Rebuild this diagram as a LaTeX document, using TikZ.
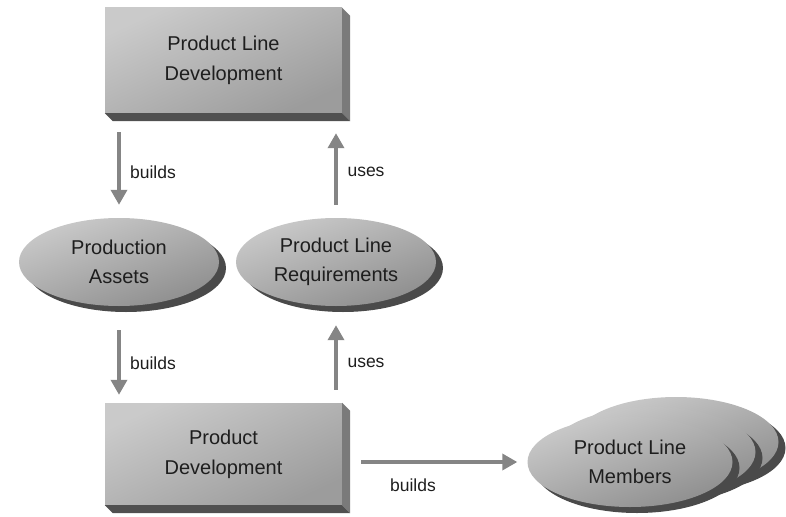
\documentclass[tikz,border=0pt]{standalone}
\usepackage{fontspec}
\setmainfont{Liberation Sans}
\usetikzlibrary{shapes.geometric,shadows,arrows.meta}
\definecolor{facelight}{HTML}{CACACA}
\definecolor{facedark}{HTML}{9C9C9C}
\definecolor{sidegrey}{HTML}{7A7A7A}
\definecolor{basegrey}{HTML}{505050}
\definecolor{blobdark}{HTML}{8E8E8E}
\definecolor{shadowgrey}{HTML}{4A4A4A}
\definecolor{flowgrey}{HTML}{858585}
\definecolor{inkgrey}{HTML}{1E1E1E}
\begin{document}
\begin{tikzpicture}[x=1pt,y=-1pt,
    box/.style={rectangle, top color=facelight, bottom color=facedark, shading angle=25,
      minimum width=237pt, align=center, text=inkgrey,
      font=\fontsize{20}{30}\selectfont},
    blob/.style={ellipse, top color=facelight, bottom color=blobdark, shading angle=20,
      minimum width=200pt, minimum height=88pt, inner sep=0pt, align=center, text=inkgrey,
      font=\fontsize{20}{29}\selectfont,
      drop shadow={shadow xshift=7pt, shadow yshift=-6pt, fill=shadowgrey, opacity=1}},
    flow/.style={draw=flowgrey, line width=3.5pt, -{Triangle[width=16pt,length=15pt]}},
    lbl/.style={inner sep=0pt, text=inkgrey, font=\fontsize{17.5}{20}\selectfont}]
    \useasboundingbox (0,0) rectangle (786,516);

    % boxes with extruded edges
    \node[box, minimum height=105pt] (pld) at (223.5,60.5) {Product Line\\Development};
    \fill[sidegrey] (pld.north east) -- ([shift={(8,8)}]pld.north east)
      -- ([shift={(8,8)}]pld.south east) -- (pld.south east) -- cycle;
    \fill[basegrey] (pld.south west) -- ([shift={(8,8)}]pld.south west)
      -- ([shift={(8,8)}]pld.south east) -- (pld.south east) -- cycle;

    \node[box, minimum height=102pt] (pd) at (223.5,454) {Product\\Development};
    \fill[sidegrey] (pd.north east) -- ([shift={(8,8)}]pd.north east)
      -- ([shift={(8,8)}]pd.south east) -- (pd.south east) -- cycle;
    \fill[basegrey] (pd.south west) -- ([shift={(8,8)}]pd.south west)
      -- ([shift={(8,8)}]pd.south east) -- (pd.south east) -- cycle;

    % ellipses
    \node[blob] (pa) at (119,262) {Production\\Assets};
    \node[blob] (plr) at (336,262) {Product Line\\Requirements};
    \node[blob, minimum width=205pt, minimum height=90pt] (plmback) at (676,442) {};
    \node[blob, minimum width=205pt, minimum height=90pt] (plmmid) at (653,452) {};
    \node[blob, minimum width=205pt, minimum height=90pt] (plm) at (630,462) {Product Line\\Members};

    % connectors
    \draw[flow, shorten <=19pt, shorten >=13pt] (pld.south -| pa) -- (pa.north);
    \draw[flow, shorten <=13pt, shorten >=20pt] (plr.north) -- (pld.south -| plr);
    \draw[flow, shorten <=24pt, shorten >=8pt] (pa.south) -- (pd.north -| pa);
    \draw[flow, shorten <=13pt, shorten >=19pt] (pd.north -| plr) -- (plr.south);
    \draw[flow, shorten <=19pt, shorten >=10pt] (pd.east |- plm) -- (plm.west);

    \node[lbl] (b1) at (153,172) {builds};
    \node[lbl] (u1) at (366,172) {uses};
    \node[lbl] (b2) at (153,363) {builds};
    \node[lbl] (u2) at (366,363) {uses};
    \node[lbl] (b3) at (413,485) {builds};
  \end{tikzpicture}
\end{document}
